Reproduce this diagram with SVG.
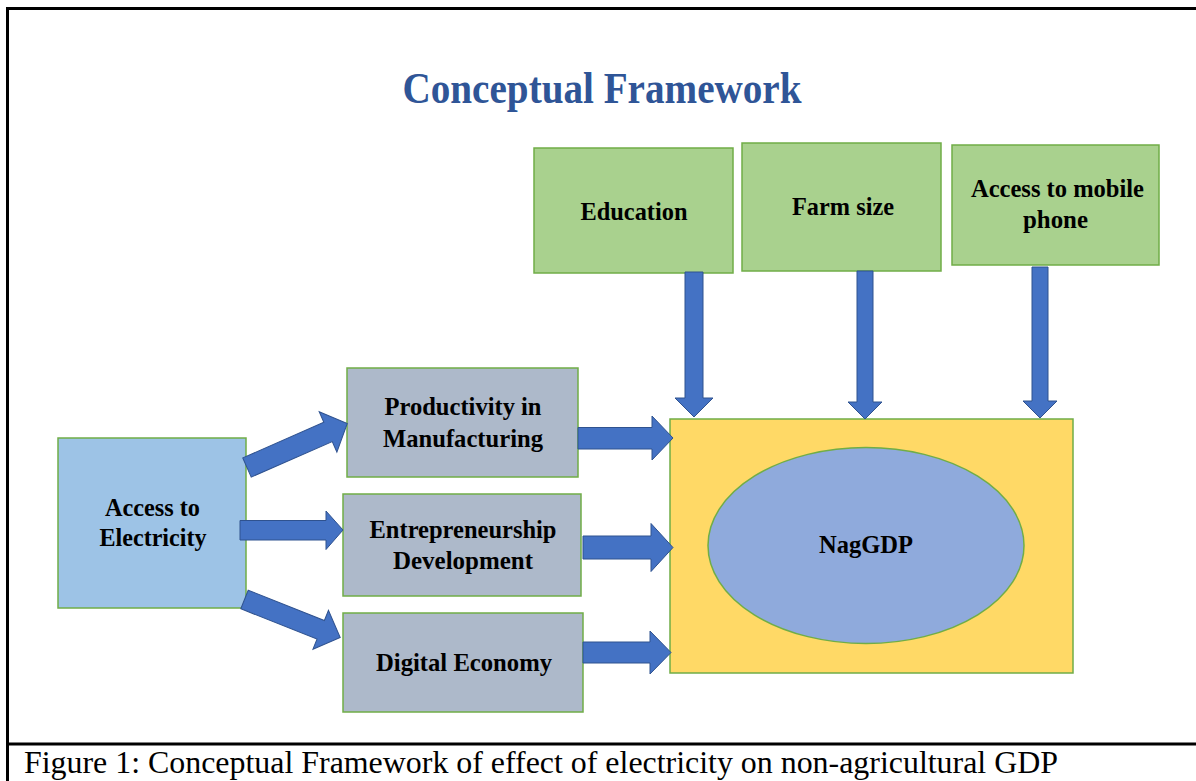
<svg xmlns="http://www.w3.org/2000/svg" width="1196" height="781" viewBox="0 0 1196 781">
<style>
.box{stroke:#70AD47;stroke-width:1.5}
.green{fill:#A9D18E}
.gray{fill:#ADB9CA}
.lbl{font-family:'Liberation Serif','Times New Roman',serif;font-weight:bold;font-size:26px;fill:#000;text-anchor:middle}
.arr{fill:#4472C4;stroke:#2F528F;stroke-width:1}
</style>
<rect width="1196" height="781" fill="#fff"/>
<g id="frame" stroke="#000" stroke-width="3" fill="none">
<line x1="6" y1="8.5" x2="1196" y2="8.5"/>
<line x1="7.5" y1="7" x2="7.5" y2="781"/>
<line x1="6" y1="744" x2="1196" y2="744"/>
</g>
<text id="title" x="602" y="103" font-family="'Liberation Serif','Times New Roman',serif" font-weight="bold" font-size="45" fill="#2F5597" text-anchor="middle" textLength="399" lengthAdjust="spacingAndGlyphs">Conceptual Framework</text>
<g id="education">
<rect class="box green" x="534" y="148" width="199" height="125"/>
<text class="lbl" x="634" y="220" textLength="107" lengthAdjust="spacingAndGlyphs">Education</text>
</g>
<g id="farm-size">
<rect class="box green" x="742" y="143" width="199" height="128"/>
<text class="lbl" x="843" y="215" textLength="102" lengthAdjust="spacingAndGlyphs">Farm size</text>
</g>
<g id="mobile">
<rect class="box green" x="952" y="145" width="207" height="120"/>
<text class="lbl" x="1057.5" y="197" textLength="173" lengthAdjust="spacingAndGlyphs">Access to mobile</text>
<text class="lbl" x="1055.5" y="228" textLength="65" lengthAdjust="spacingAndGlyphs">phone</text>
</g>
<g id="access-electricity">
<rect class="box" fill="#9DC3E6" x="58" y="438" width="188" height="170"/>
<text class="lbl" x="152.5" y="516" textLength="95" lengthAdjust="spacingAndGlyphs">Access to</text>
<text class="lbl" x="153" y="546" textLength="107" lengthAdjust="spacingAndGlyphs">Electricity</text>
</g>
<g id="productivity">
<rect class="box gray" x="347" y="368" width="231" height="109"/>
<text class="lbl" x="463" y="415" textLength="157" lengthAdjust="spacingAndGlyphs">Productivity in</text>
<text class="lbl" x="463" y="447" textLength="160" lengthAdjust="spacingAndGlyphs">Manufacturing</text>
</g>
<g id="entrepreneurship">
<rect class="box gray" x="343" y="494" width="238" height="102"/>
<text class="lbl" x="463" y="538" textLength="187" lengthAdjust="spacingAndGlyphs">Entrepreneurship</text>
<text class="lbl" x="463" y="569" textLength="140" lengthAdjust="spacingAndGlyphs">Development</text>
</g>
<g id="digital">
<rect class="box gray" x="343" y="613" width="240" height="99"/>
<text class="lbl" x="464" y="671" textLength="176" lengthAdjust="spacingAndGlyphs">Digital Economy</text>
</g>
<g id="naggdp">
<rect class="box" fill="#FFD966" x="670" y="419" width="403" height="254"/>
<ellipse class="box" fill="#8FAADC" cx="866" cy="545.5" rx="158" ry="98"/>
<text class="lbl" x="866" y="553" textLength="94" lengthAdjust="spacingAndGlyphs">NagGDP</text>
</g>
<g id="connectors">
<polygon class="arr" transform="translate(247,467.5) rotate(-23.7)" points="0,-10.5 88.5,-10.5 88.5,-22 109.5,0 88.5,22 88.5,10.5 0,10.5"/>
<polygon class="arr" points="240,520.5 326,520.5 326,511 343,530 326,549.5 326,540 240,540"/>
<polygon class="arr" transform="translate(244.5,599.5) rotate(21.7)" points="0,-10 82,-10 82,-21 103,0 82,21 82,10 0,10"/>
<polygon class="arr" points="578,427.5 652,427.5 652,416 673,438 652,460 652,449 578,449"/>
<polygon class="arr" points="583,536 651,536 651,523.5 673,547.5 651,571.5 651,559 583,559"/>
<polygon class="arr" points="583,642 650,642 650,631 671,652.5 650,674 650,663 583,663"/>
<polygon class="arr" points="685,272 703,272 703,398 713,398 694,417 675,398 685,398"/>
<polygon class="arr" points="857,271 873,271 873,402 882,402 865,419 848,402 857,402"/>
<polygon class="arr" points="1032,267 1048,267 1048,401 1057,401 1040,418 1023,401 1032,401"/>
</g>
<text id="caption" x="24" y="773" font-family="'Liberation Serif','Times New Roman',serif" font-size="31" fill="#000" textLength="1034" lengthAdjust="spacingAndGlyphs">Figure 1: Conceptual Framework of effect of electricity on non-agricultural GDP</text>
</svg>
